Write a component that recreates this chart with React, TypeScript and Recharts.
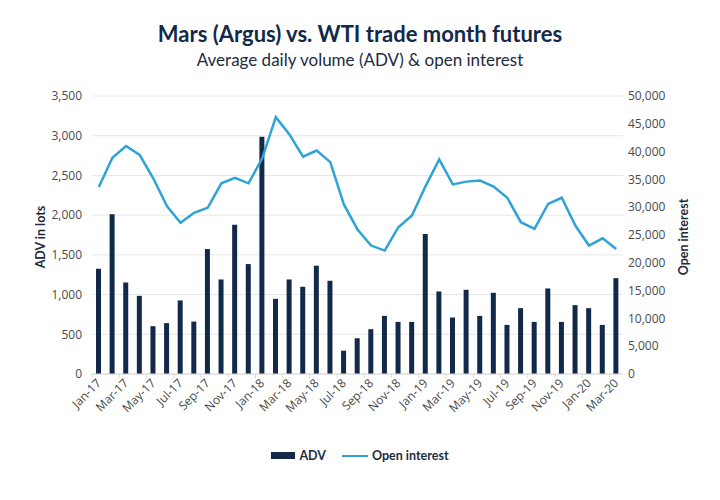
import React from 'react';
import { ComposedChart, Bar, Line, XAxis, YAxis, CartesianGrid } from 'recharts';

const months = [
  'Jan-17','Feb-17','Mar-17','Apr-17','May-17','Jun-17','Jul-17','Aug-17','Sep-17','Oct-17','Nov-17','Dec-17',
  'Jan-18','Feb-18','Mar-18','Apr-18','May-18','Jun-18','Jul-18','Aug-18','Sep-18','Oct-18','Nov-18','Dec-18',
  'Jan-19','Feb-19','Mar-19','Apr-19','May-19','Jun-19','Jul-19','Aug-19','Sep-19','Oct-19','Nov-19','Dec-19',
  'Jan-20','Feb-20','Mar-20',
];

const adv = [
  1325, 2011, 1153, 984, 602, 640, 926, 660, 1573, 1190, 1880, 1384,
  2987, 946, 1190, 1098, 1363, 1174, 294, 450, 564, 732, 656, 656,
  1763, 1039, 711, 1060, 732, 1022, 618, 829, 656, 1077, 656, 867,
  829, 618, 1207,
];

const openInterest = [
  33650, 38900, 41000, 39400, 35200, 30200, 27200, 29000, 29900, 34300, 35300, 34300,
  38800, 46200, 43100, 39100, 40200, 38100, 30500, 26000, 23100, 22200, 26400, 28500,
  33800, 38600, 34100, 34600, 34800, 33700, 31700, 27300, 26100, 30600, 31700, 26700,
  23100, 24400, 22500,
];

const leftTicks = [0, 500, 1000, 1500, 2000, 2500, 3000, 3500];
const rightTicks = [0, 5000, 10000, 15000, 20000, 25000, 30000, 35000, 40000, 45000, 50000];

const data = months.map((m, i) => ({ month: m, adv: adv[i], oi: openInterest[i] }));

const FONT = "Lato, 'Open Sans', sans-serif";
const TICK_FONT = "'Open Sans', Lato, sans-serif";
const NAVY = '#12294a';
const BLUE = '#2ea3d6';
const fmt = (v: number) => v.toLocaleString('en-US');

const XTick = (props: any) => {
  const { x, y, payload, index } = props;
  if (index % 2 !== 0) return null;
  const off = payload.offset || 0;
  return (
    <g>
      <line x1={x - off} x2={x - off} y1={y} y2={y + 4} stroke="#d9d9d9" strokeWidth={1} />
      <text
        x={x + 3}
        y={y + 10}
        transform={`rotate(-45, ${x + 3}, ${y + 10})`}
        textAnchor="end"
        fontSize={12}
        fill="#4a4a4a"
        fontFamily={TICK_FONT}
      >
        {payload.value}
      </text>
    </g>
  );
};

export default function App() {
  return (
    <div style={{ position: 'absolute', left: 0, top: 0, width: 720, height: 500, background: '#fff', fontFamily: FONT }}>
      <div style={{ position: 'absolute', top: 20, left: 0, width: 720, textAlign: 'center', fontSize: 22, fontWeight: 700, color: NAVY, lineHeight: '28px' }}>
        Mars (Argus) vs. WTI trade month futures
      </div>
      <div style={{ position: 'absolute', top: 49, left: 0, width: 720, textAlign: 'center', fontSize: 17, color: '#1d2b40', lineHeight: '22px' }}>
        Average daily volume (ADV) &amp; open interest
      </div>
      <div style={{ position: 'absolute', left: 40, top: 237, width: 0, height: 0 }}>
        <div style={{ position: 'absolute', transform: 'translate(-50%, -50%) rotate(-90deg)', whiteSpace: 'nowrap', fontSize: 12.5, fontWeight: 700, color: '#1d2b40' }}>
          ADV in lots
        </div>
      </div>
      <div style={{ position: 'absolute', left: 683, top: 237, width: 0, height: 0 }}>
        <div style={{ position: 'absolute', transform: 'translate(-50%, -50%) rotate(-90deg)', whiteSpace: 'nowrap', fontSize: 12.5, fontWeight: 700, color: '#1d2b40' }}>
          Open interest
        </div>
      </div>
      <div style={{ position: 'absolute', top: 0, left: 0 }}>
        <ComposedChart width={720} height={500} data={data} margin={{ top: 96, right: 0, bottom: 66, left: 0 }}>
          <CartesianGrid yAxisId="left" vertical={false} stroke="#e6e6e6" />
          <XAxis
            dataKey="month"
            interval={0}
            tick={<XTick />}
            tickLine={false}
            tickSize={0}
            tickMargin={0}
            height={60}
            axisLine={{ stroke: '#d9d9d9' }}
          />
          <YAxis
            yAxisId="left"
            orientation="left"
            width={92}
            domain={[0, 3500]}
            ticks={leftTicks}
            tickFormatter={fmt}
            axisLine={false}
            tickLine={false}
            tickSize={0}
            tickMargin={10}
            tick={{ fontSize: 12, fill: '#4a4a4a', fontFamily: TICK_FONT }}
          />
          <YAxis
            yAxisId="right"
            orientation="right"
            width={97}
            domain={[0, 50000]}
            ticks={rightTicks}
            tickFormatter={fmt}
            axisLine={false}
            tickLine={false}
            tickSize={0}
            tickMargin={5}
            tick={{ fontSize: 12, fill: '#4a4a4a', fontFamily: TICK_FONT, textAnchor: 'start' }}
          />
          <Bar yAxisId="left" dataKey="adv" fill={NAVY} barSize={5} isAnimationActive={false} />
          <Line yAxisId="right" dataKey="oi" stroke={BLUE} strokeWidth={2.5} dot={false} type="linear" isAnimationActive={false} />
        </ComposedChart>
      </div>
      <div style={{ position: 'absolute', top: 448, left: 0, width: 720, display: 'flex', justifyContent: 'center', alignItems: 'center', fontSize: 12.5, color: '#1d2b40' }}>
        <span style={{ display: 'inline-block', width: 24, height: 7, background: NAVY, marginRight: 4 }} />
        <span style={{ fontWeight: 700, marginRight: 16 }}>ADV</span>
        <span style={{ display: 'inline-block', width: 26, height: 2, background: BLUE, marginRight: 4 }} />
        <span style={{ fontWeight: 700 }}>Open interest</span>
      </div>
    </div>
  );
}
